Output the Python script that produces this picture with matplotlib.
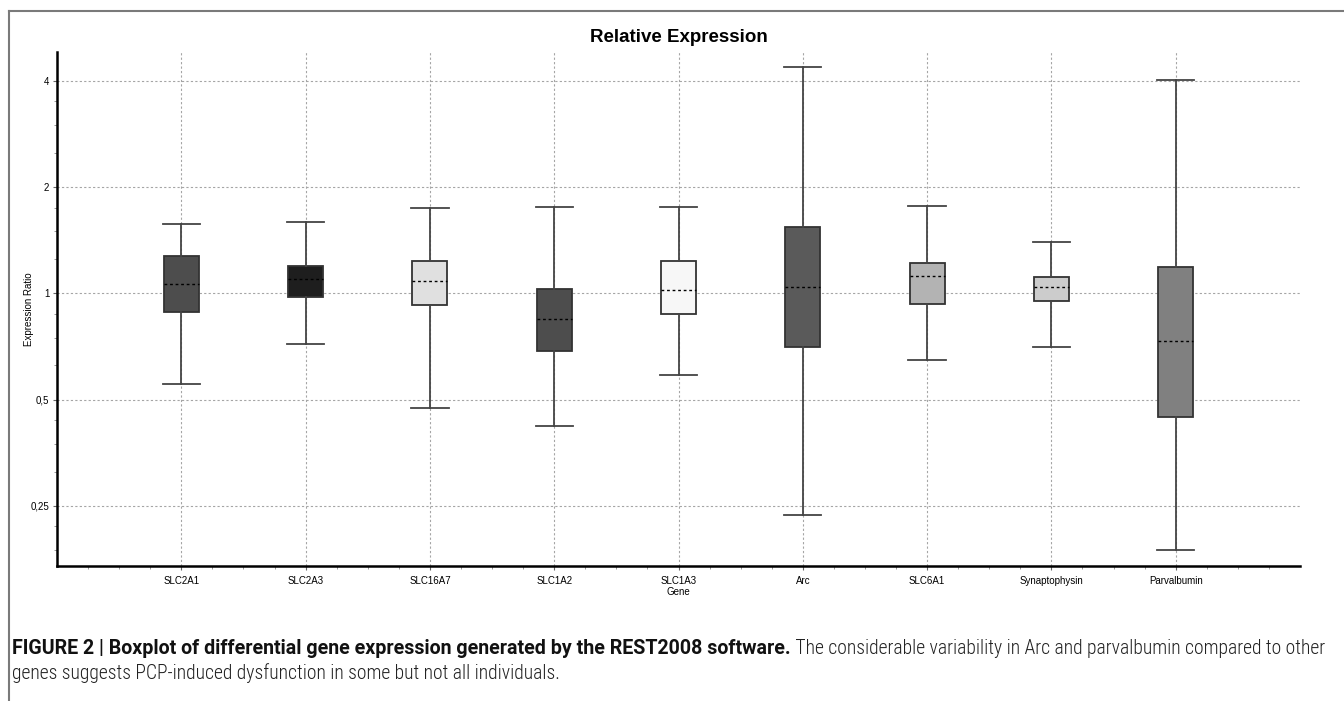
"""
Boxplot of relative gene expression (REST2008 style), log2 y-axis.
"""

import matplotlib
matplotlib.use("Agg")
import matplotlib.pyplot as plt
from matplotlib.lines import Line2D
from matplotlib.ticker import FixedLocator, FuncFormatter

# Data (expression ratios)
genes = ["SLC2A1", "SLC2A3", "SLC16A7", "SLC1A2", "SLC1A3",
         "Arc", "SLC6A1", "Synaptophysin", "Parvalbumin"]
whisk_lo = [0.555, 0.721, 0.473, 0.421, 0.589, 0.235, 0.648, 0.704, 0.187]
q1 = [0.886, 0.979, 0.930, 0.688, 0.877, 0.707, 0.932, 0.952, 0.446]
median = [1.066, 1.097, 1.087, 0.847, 1.021, 1.041, 1.119, 1.041, 0.734]
q3 = [1.280, 1.199, 1.236, 1.028, 1.238, 1.546, 1.222, 1.111, 1.191]
whisk_hi = [1.577, 1.594, 1.743, 1.754, 1.754, 4.37, 1.766, 1.399, 4.02]
box_colors = ["#4d4d4d", "#1e1e1e", "#e0e0e0", "#4d4d4d", "#f7f7f7",
              "#5a5a5a", "#b3b3b3", "#cccccc", "#808080"]

y_ticks = [0.25, 0.5, 1, 2, 4]

caption_bold = "FIGURE 2 | Boxplot of differential gene expression generated by the REST2008 software."
caption_rest = " The considerable variability in Arc and parvalbumin compared to other"
caption_line2 = "genes suggests PCP-induced dysfunction in some but not all individuals."

CHART_FONT = ["Liberation Sans", "DejaVu Sans"]
BOLD_FONT = ["Roboto", "DejaVu Sans"]
CAPTION_FONT = ["Roboto Condensed", "Liberation Sans Narrow", "Roboto", "DejaVu Sans"]
W, H = 1344, 701


def main():
    fig = plt.figure(figsize=(W / 100, H / 100), dpi=100)
    ax = fig.add_axes([57 / W, 1 - 566 / H, (1300 - 57) / W, (566 - 52) / H])

    stats = []
    for i, g in enumerate(genes):
        stats.append(dict(label=g, whislo=whisk_lo[i], q1=q1[i], med=median[i],
                          q3=q3[i], whishi=whisk_hi[i], fliers=[]))
    positions = list(range(1, len(genes) + 1))
    bp = ax.bxp(stats, positions=positions, widths=0.28, capwidths=0.3,
                patch_artist=True, showfliers=False,
                boxprops=dict(edgecolor="#333333", linewidth=1.3),
                medianprops=dict(color="black", linestyle=(0, (2, 2)), linewidth=1.0),
                whiskerprops=dict(color="#444444", linewidth=1.3),
                capprops=dict(color="#444444", linewidth=1.3))
    for patch, c in zip(bp["boxes"], box_colors):
        patch.set_facecolor(c)

    ax.set_yscale("log", base=2)
    ax.set_ylim(0.169, 4.83)
    ax.set_xlim(0, 10)

    ax.yaxis.set_major_locator(FixedLocator(y_ticks))
    ax.yaxis.set_major_formatter(FuncFormatter(lambda v, p: f"{v:g}".replace(".", ",")))
    minor_y = [b * f for b in [0.125, 0.25, 0.5, 1, 2, 4] for f in (1.25, 1.5, 1.75)]
    ax.yaxis.set_minor_locator(FixedLocator(minor_y))
    ax.yaxis.set_minor_formatter(FuncFormatter(lambda v, p: ""))
    ax.set_xticks(positions)
    ax.set_xticklabels(genes)
    ax.xaxis.set_minor_locator(FixedLocator([i * 0.25 for i in range(1, 40)]))

    ax.tick_params(axis="both", which="major", labelsize=7, length=3, width=0.8,
                   color="#666666", pad=2.5)
    ax.tick_params(axis="x", which="major", pad=4)
    ax.tick_params(axis="both", which="minor", length=2, width=0.6, color="#888888")
    for lab in ax.get_xticklabels() + ax.get_yticklabels():
        lab.set_family(CHART_FONT)

    ax.grid(True, which="major", color="#a5a5a5", linestyle=(0, (2, 2)), linewidth=0.8)
    ax.set_axisbelow(True)

    ax.spines["top"].set_visible(False)
    ax.spines["right"].set_visible(False)
    ax.spines["left"].set_linewidth(1.8)
    ax.spines["bottom"].set_linewidth(1.8)

    ax.set_title("Relative Expression", fontsize=13.5, fontweight="bold",
                 family=CHART_FONT, pad=7)
    ax.set_ylabel("Expression Ratio", fontsize=7, family=CHART_FONT)
    ax.yaxis.set_label_coords((34 - 57) / (1300 - 57), 0.5)
    ax.set_xlabel("Gene", fontsize=7, family=CHART_FONT, labelpad=1)

    # outer frame lines (top and left)
    fig.add_artist(Line2D([9 / W, 1.0], [1 - 11 / H, 1 - 11 / H],
                          transform=fig.transFigure, color="#7a7a7a", linewidth=1.5))
    fig.add_artist(Line2D([9 / W, 9 / W], [0.0, 1 - 11 / H],
                          transform=fig.transFigure, color="#7a7a7a", linewidth=1.5))

    # caption: bold lead-in and light text on one line, sized to span the line width
    y1 = 1 - 649 / H
    t1 = fig.text(12 / W, y1, caption_bold, fontsize=12, fontweight="bold",
                  family=BOLD_FONT, va="center", color="#111111")
    t2 = fig.text(0.5, y1, caption_rest, fontsize=12, family=CAPTION_FONT,
                  fontweight="light", va="center", ha="left", color="#222222")
    r = fig.canvas.get_renderer()
    for _ in range(3):
        total = t1.get_window_extent(r).width + t2.get_window_extent(r).width
        size = t1.get_fontsize() * (1316 / total)
        t1.set_fontsize(size)
        t2.set_fontsize(size)
    t2.set_x(t1.get_window_extent(r).x1 / W)
    fig.text(12 / W, 1 - 673 / H, caption_line2, fontsize=t2.get_fontsize(),
             family=CAPTION_FONT, fontweight="light", va="center", color="#222222")

    fig.savefig("out.png", dpi=100)


main()
